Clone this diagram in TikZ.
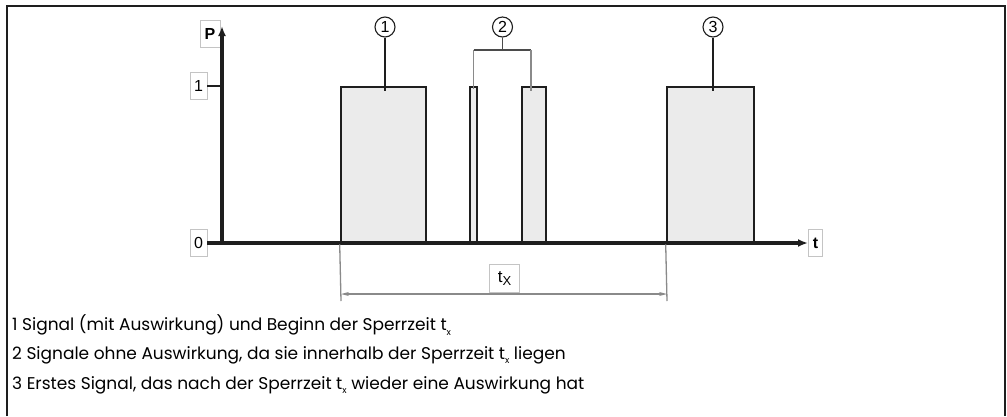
\documentclass[tikz,border=0pt]{standalone}
\usepackage{fontspec}
\setmainfont{Poppins}
\newfontfamily\arial{Liberation Sans}
\usetikzlibrary{arrows.meta,calc}
\definecolor{pulsefill}{HTML}{EBEBEB}
\definecolor{dark}{HTML}{1E1E1E}
\definecolor{leader}{HTML}{8A8A8A}
\definecolor{boxline}{HTML}{C4C4C4}
\begin{document}
\begin{tikzpicture}[x=1pt,y=-1pt,
  lbl/.style={draw=boxline,line width=0.9pt,inner sep=0pt,fill=white,font=\arial\fontsize{16}{18}\selectfont,minimum height=27pt},
  pulse/.style={draw=dark,fill=pulsefill,line width=2.6pt,inner sep=0pt},
  axisline/.style={draw=dark,line width=3.6pt},
  circnum/.style={circle,draw=dark,line width=1.1pt,inner sep=0pt,minimum size=20pt,font=\arial\fontsize{16}{16}\selectfont},
  leadline/.style={draw=leader,line width=1.3pt},
  bracket/.style={draw=dark!80,line width=1.1pt},
  dimline/.style={draw=leader,line width=1.2pt},
  caption/.style={anchor=west,inner sep=0pt,font=\fontsize{17}{19}\selectfont}
]
\useasboundingbox (0,0) rectangle (1007,416);
% frame
\draw[line width=1.3pt,dark] (7,416) -- (7,6) -- (1005,6) -- (1005,416);

% pulses
\node[pulse,minimum width=85pt,minimum height=156pt] (p1) at (383.5,165) {};
\node[pulse,minimum width=7pt,minimum height=156pt] (p2a) at (473.5,165) {};
\node[pulse,minimum width=24pt,minimum height=156pt] (p2b) at (534,165) {};
\node[pulse,minimum width=87pt,minimum height=156pt] (p3) at (710.5,165) {};

% labels
\node[lbl,minimum width=20pt] (P) at (210,33.5) {\bfseries P};
\node[lbl,minimum width=17pt] (one) at (198.5,86) {1};
\node[lbl,minimum width=17pt] (zero) at (198.5,243) {0};
\node[lbl,minimum width=14pt] (t) at (815.5,243) {\bfseries t};

% axes
\coordinate (ytip) at (222,26);
\coordinate (xtip) at (808,243);
\coordinate (yorig) at (222,243);
\draw[axisline,-{Latex[length=10pt,width=8pt]}] (yorig) -- (ytip);
\draw[axisline,-{Latex[length=10pt,width=8pt]}] (zero.east) -- (xtip);
\draw[dark,line width=2.2pt] (one.east) -- (one.east -| yorig);

% circled numbers
\node[circnum] (c1) at (385,27) {1};
\node[circnum] (c2) at (502.5,27) {2};
\node[circnum] (c3) at (713,27) {3};
\draw[dark,line width=1.1pt] (c1.south) -- ($(c1.south |- p1.north)+(0,5)$);
\coordinate (bl) at (473.5,50);
\coordinate (br) at (531,50);
\draw[bracket] (c2.south) -- (c2.south |- bl);
\draw[bracket] (bl) -- (br);
\draw[leadline] (bl) -- ($(p2a.north)+(0,3)$);
\draw[leadline] (br) -- ($(br |- p2b.north)+(0,5)$);
\draw[dark,line width=1.1pt] (c3.south) -- ($(c3.south |- p3.north)+(0,5)$);

% dimension
\coordinate (e1) at (341,301);
\coordinate (e3) at (667,301);
\draw[leadline] (p1.south west) -- (e1);
\draw[leadline] (p3.south west) -- (e3);
\coordinate (d1) at (341,294);
\coordinate (d3) at (667,294);
\draw[dimline,{Stealth[length=8pt,width=4pt]}-{Stealth[length=8pt,width=4pt]}] (d1) -- (d3);
\node[lbl,minimum width=30pt,minimum height=28pt,anchor=south] (tx) at (504.5,293) {\fontsize{17}{17}\selectfont t\raisebox{-0.4ex}{\fontsize{13}{13}\selectfont X}};

% captions
\node[caption] (l1) at (12,325) {1 Signal (mit Auswirkung) und Beginn der Sperrzeit t\raisebox{-0.5ex}{\fontsize{9}{9}\selectfont x}};
\node[caption] (l2) at (12,355) {2 Signale ohne Auswirkung, da sie innerhalb der Sperrzeit t\raisebox{-0.5ex}{\fontsize{9}{9}\selectfont x} liegen};
\node[caption] (l3) at (12,385) {3 Erstes Signal, das nach der Sperrzeit t\raisebox{-0.5ex}{\fontsize{9}{9}\selectfont x} wieder eine Auswirkung hat};
\end{tikzpicture}
\end{document}
